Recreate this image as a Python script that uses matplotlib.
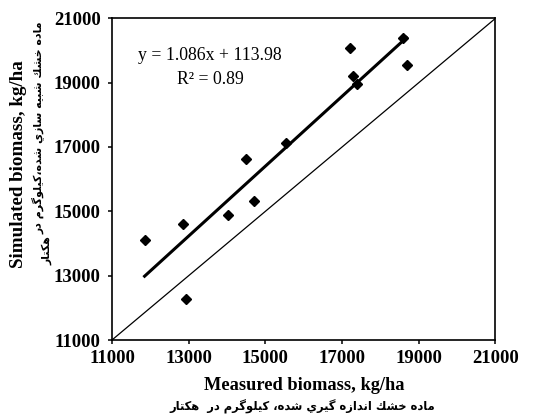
import matplotlib
matplotlib.use("Agg")
import matplotlib.pyplot as plt
import numpy as np

# ---- data ----
measured = [11850, 12840, 12940, 14030, 14500, 14700, 15550, 17200, 17290, 17400, 18590, 18680]
simulated = [14110, 14610, 12260, 14890, 16620, 15320, 17130, 20090, 19210, 18950, 20380, 19550]
slope = 1.086
intercept = 113.98
r2 = 0.89
ticks = [11000, 13000, 15000, 17000, 19000, 21000]
xlabel_en = "Measured biomass, kg/ha"
ylabel_en = "Simulated biomass, kg/ha"
xlabel_fa = "ماده خشك اندازه گيري شده، كيلوگرم در  هكتار"
ylabel_fa1 = "ماده خشك شبيه سازي شده،كيلوگرم در"
ylabel_fa2 = "هكتار"

# ---- minimal Arabic shaping (presentation forms) ----
FORMS = {
    '\u0627': ('\uFE8D', '\uFE8E', None, None),
    '\u0628': ('\uFE8F', '\uFE90', '\uFE91', '\uFE92'),
    '\u062A': ('\uFE95', '\uFE96', '\uFE97', '\uFE98'),
    '\u062E': ('\uFEA5', '\uFEA6', '\uFEA7', '\uFEA8'),
    '\u062F': ('\uFEA9', '\uFEAA', None, None),
    '\u0631': ('\uFEAD', '\uFEAE', None, None),
    '\u0632': ('\uFEAF', '\uFEB0', None, None),
    '\u0633': ('\uFEB1', '\uFEB2', '\uFEB3', '\uFEB4'),
    '\u0634': ('\uFEB5', '\uFEB6', '\uFEB7', '\uFEB8'),
    '\u0643': ('\uFED9', '\uFEDA', '\uFEDB', '\uFEDC'),
    '\u0644': ('\uFEDD', '\uFEDE', '\uFEDF', '\uFEE0'),
    '\u0645': ('\uFEE1', '\uFEE2', '\uFEE3', '\uFEE4'),
    '\u0646': ('\uFEE5', '\uFEE6', '\uFEE7', '\uFEE8'),
    '\u0647': ('\uFEE9', '\uFEEA', '\uFEEB', '\uFEEC'),
    '\u0648': ('\uFEED', '\uFEEE', None, None),
    '\u064A': ('\uFEF1', '\uFEF2', '\uFEF3', '\uFEF4'),
    '\u06AF': ('\uFB92', '\uFB93', '\uFB94', '\uFB95'),
}


def shape(text):
    out = []
    n = len(text)
    for i, ch in enumerate(text):
        f = FORMS.get(ch)
        if f is None:
            out.append(ch)
            continue
        prev = text[i - 1] if i > 0 else None
        nxt = text[i + 1] if i < n - 1 else None
        jp = prev in FORMS and FORMS[prev][2] is not None
        jn = f[2] is not None and nxt in FORMS
        if jp and jn:
            out.append(f[3])
        elif jp:
            out.append(f[1])
        elif jn:
            out.append(f[2])
        else:
            out.append(f[0])
    return ''.join(reversed(out))


serif = ['Liberation Serif', 'DejaVu Serif']
arab = ['DejaVu Sans']

fig = plt.figure(figsize=(5.5, 4.18), dpi=100)
ax = fig.add_axes([0.2036, 0.1866, 0.6973, 0.7696])

ax.plot(measured, simulated, linestyle='none', marker='D', markersize=5.5,
        color='black', zorder=3)
xf = np.array([min(measured), max(measured)])
ax.plot(xf, slope * xf + intercept, color='black', lw=2.2, zorder=2)
ax.plot([ticks[0], ticks[-1]], [ticks[0], ticks[-1]], color='black', lw=0.9, zorder=1)

ax.set_xlim(ticks[0], ticks[-1])
ax.set_ylim(ticks[0], ticks[-1])
ax.set_xticks(ticks)
ax.set_yticks(ticks)
ax.set_xticklabels([str(t) for t in ticks], fontfamily=serif, fontweight='bold', fontsize=13.5)
ax.set_yticklabels([str(t) for t in ticks], fontfamily=serif, fontweight='bold', fontsize=13.5)
ax.tick_params(direction='out', length=3, width=1.1)
ax.tick_params(axis='y', pad=5)
ax.tick_params(axis='x', pad=4)
for s in ax.spines.values():
    s.set_linewidth(1.2)
    s.set_color('black')

ax.text(0.256, 0.885, f"y = {slope}x + {intercept}", transform=ax.transAxes,
        ha='center', va='center', fontfamily=serif, fontsize=12.8)
ax.text(0.256, 0.81, f"R\u00b2 = {r2}", transform=ax.transAxes,
        ha='center', va='center', fontfamily=serif, fontsize=12.8)

W, H = 550.0, 418.0
fig.text(304 / W, 1 - 385 / H, xlabel_en, ha='center', va='center',
         fontfamily=serif, fontweight='bold', fontsize=13.2)
fig.text(302 / W, 1 - 407 / H, shape(xlabel_fa), ha='center', va='center',
         fontfamily=arab, fontweight='bold', fontsize=8.3)

fig.text(19 / W, 1 - 164 / H, ylabel_en, ha='center', va='center', rotation=90,
         fontfamily=serif, fontweight='bold', fontsize=13.7)
fig.text(38 / W, 1 - 21 / H, shape(ylabel_fa1), ha='center', va='top', rotation=90,
         fontfamily=arab, fontweight='bold', fontsize=7.9)
fig.text(47 / W, 1 - 265 / H, shape(ylabel_fa2), ha='center', va='bottom', rotation=90,
         fontfamily=arab, fontweight='bold', fontsize=7.9)

fig.savefig("out.png", dpi=100)
